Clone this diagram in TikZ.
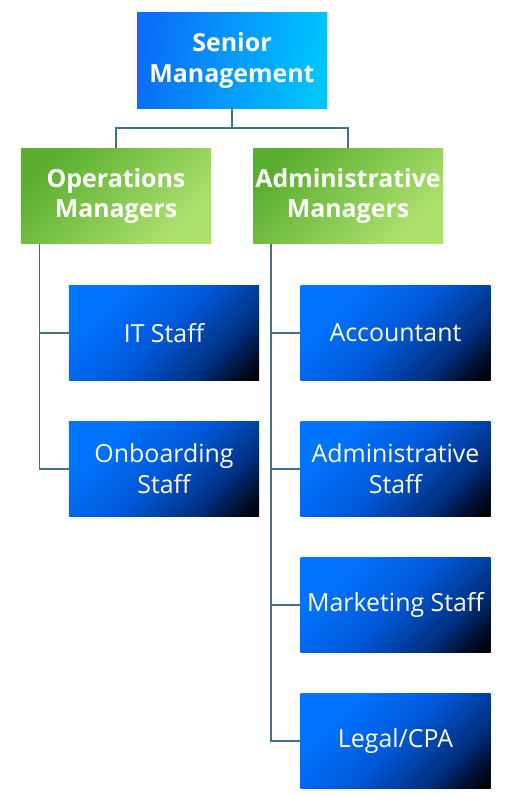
\documentclass[tikz,border=0pt]{standalone}
\usepackage{fontspec}
\setmainfont{Open Sans}
\usetikzlibrary{positioning}
\definecolor{linec}{HTML}{44708A}
\definecolor{srA}{HTML}{0A6EF8}
\definecolor{srB}{HTML}{00C4FF}
\definecolor{grA}{HTML}{5AAE30}
\definecolor{grB}{HTML}{AEE26E}
\definecolor{blA}{HTML}{0074FF}
\definecolor{blB}{HTML}{0058D8}
\definecolor{blC}{HTML}{003080}
\definecolor{blD}{HTML}{000C28}
\pgfdeclareverticalshading{bluediag}{100bp}{color(0bp)=(black); color(15bp)=(black); color(21bp)=(blD); color(31bp)=(blC); color(50bp)=(blB); color(72bp)=(blA); color(100bp)=(blA)}
\tikzset{
  box/.style={rectangle, minimum width=190bp, minimum height=95bp, inner sep=0pt, text=white, align=center, font=\fontsize{25}{31}\selectfont},
  seniorbox/.style={box, font=\bfseries\fontsize{25}{31}\selectfont, left color=srA, right color=srB, shading angle=80},
  mgrbox/.style={box, font=\bfseries\fontsize{25}{31}\selectfont, top color=grA, bottom color=grB, shading angle=45},
  staffbox/.style={box, shading=bluediag, shading angle=45},
  conn/.style={draw=linec, line width=1.1bp}
}
\begin{document}
\begin{tikzpicture}[x=1bp,y=-1bp]
\useasboundingbox (0,0) rectangle (515,796);
\node[seniorbox] (sr) at (232,60.5) {Senior\\Management};
\node[mgrbox] (ops) at (116,196) {Operations\\Managers};
\node[mgrbox] (adm) at (348,196) {Administrative\\Managers};
\node[staffbox] (it) at (164,333) {IT Staff};
\node[staffbox] (onb) at (164,469) {Onboarding\\Staff};
\node[staffbox] (acc) at (395.5,333) {Accountant};
\node[staffbox] (ads) at (395.5,469) {Administrative\\Staff};
\node[staffbox] (mkt) at (395.5,605) {Marketing Staff};
\node[staffbox] (leg) at (395.5,741) {Legal/CPA};
\coordinate (j) at (232,128);
\coordinate (ol) at (39.5,0);
\coordinate (al) at (271,0);
\draw[conn] (sr.south) -- (j);
\draw[conn] (ops.north) |- (j) -| (adm.north);
\draw[conn] (ops.south -| ol) |- (it.west);
\draw[conn] (ops.south -| ol) |- (onb.west);
\draw[conn] (adm.south -| al) |- (acc.west);
\draw[conn] (adm.south -| al) |- (ads.west);
\draw[conn] (adm.south -| al) |- (mkt.west);
\draw[conn] (adm.south -| al) |- (leg.west);
\end{tikzpicture}
\end{document}
